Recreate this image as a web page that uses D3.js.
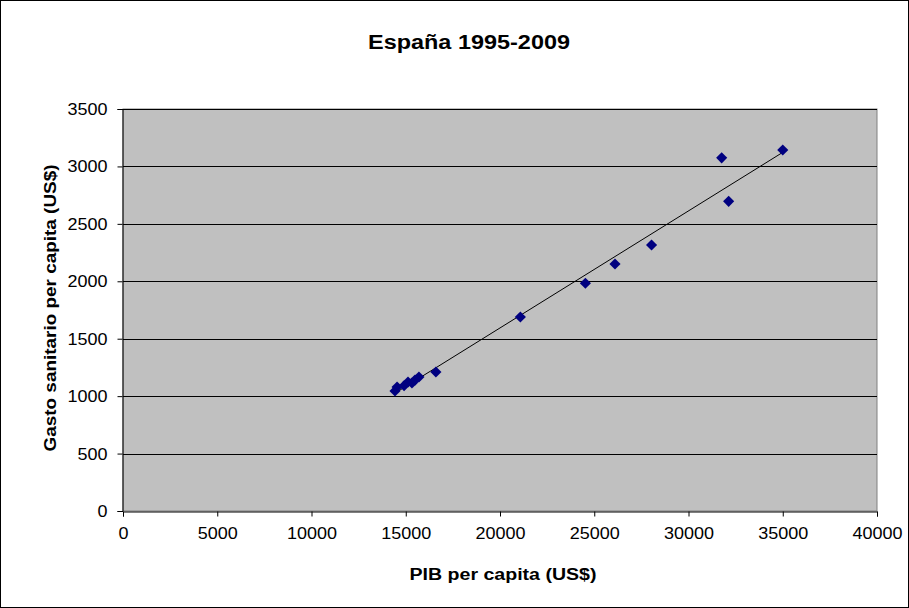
<!DOCTYPE html>
<html>
<head>
<meta charset="utf-8">
<script src="https://cdn.jsdelivr.net/npm/d3@7"></script>
<style>
  html, body { margin: 0; padding: 0; background: #fff; }
  svg { display: block; font-family: "Liberation Sans", Arial, sans-serif; }
</style>
</head>
<body>
<svg id="chart" width="909" height="608"></svg>
<script>
// España 1995-2009: PIB per capita vs gasto sanitario per capita (US$)
const years = [1995, 1996, 1997, 1998, 1999, 2000, 2001, 2002, 2003, 2004, 2005, 2006, 2007, 2008, 2009];
const pib = [14430, 14540, 14910, 15120, 15330, 15490, 15700, 16600, 21080, 24530, 26100, 28040, 31760, 35000, 32130];
const gasto = [1045, 1080, 1090, 1123, 1114, 1140, 1167, 1210, 1689, 1983, 2150, 2316, 3075, 3143, 2696];
const xTicks = [0, 5000, 10000, 15000, 20000, 25000, 30000, 35000, 40000];
const yTicks = [0, 500, 1000, 1500, 2000, 2500, 3000, 3500];

const svg = d3.select("#chart");
const W = 909, H = 608;
const plot = { left: 123, right: 877, top: 109, bottom: 511 };
const FONT = "\"Liberation Sans\", Arial, sans-serif";

// outer frame
svg.append("rect").attr("x", 0.5).attr("y", 0.5).attr("width", W - 1).attr("height", H - 1)
  .attr("fill", "#fff").attr("stroke", "#000").attr("stroke-width", 1);

const x = d3.scaleLinear().domain([0, 40000]).range([plot.left, plot.right]);
const y = d3.scaleLinear().domain([0, 3500]).range([plot.bottom, plot.top]);

// plot area
svg.append("rect").attr("x", plot.left).attr("y", plot.top)
  .attr("width", plot.right - plot.left).attr("height", plot.bottom - plot.top)
  .attr("fill", "#c0c0c0").attr("stroke", "#808080").attr("stroke-width", 1);

// horizontal gridlines
svg.append("g").selectAll("line").data(yTicks.filter(d => d > 0)).join("line")
  .attr("x1", plot.left).attr("x2", plot.right)
  .attr("y1", d => Math.round(y(d)) + 0.5).attr("y2", d => Math.round(y(d)) + 0.5)
  .attr("stroke", "#000").attr("stroke-width", 1);

// axes
const xAxis = d3.axisBottom(x).tickValues(xTicks).tickSize(5).tickPadding(10).tickFormat(d3.format("d"));
const yAxis = d3.axisLeft(y).tickValues(yTicks).tickSize(5).tickPadding(10).tickFormat(d3.format("d"));

const gx = svg.append("g").attr("transform", `translate(0,${plot.bottom + 0.5})`).call(xAxis);
const gy = svg.append("g").attr("transform", `translate(${plot.left - 0.5},0)`).call(yAxis);
[gx, gy].forEach(g => {
  g.selectAll("path").attr("stroke", "#000");
  g.selectAll("line").attr("stroke", "#000");
  g.selectAll("text").attr("font-size", 17).attr("fill", "#000").attr("font-family", FONT)
    .attr("textLength", function () { return this.textContent.length * 10; })
    .attr("lengthAdjust", "spacingAndGlyphs");
});

// linear trend line over the data range
const n = pib.length;
const mx = d3.mean(pib), my = d3.mean(gasto);
let sxy = 0, sxx = 0;
for (let i = 0; i < n; i++) { sxy += (pib[i] - mx) * (gasto[i] - my); sxx += (pib[i] - mx) ** 2; }
const slope = sxy / sxx, icpt = my - slope * mx;
const [x0, x1] = d3.extent(pib);
svg.append("line")
  .attr("x1", x(x0)).attr("y1", y(icpt + slope * x0))
  .attr("x2", x(x1)).attr("y2", y(icpt + slope * x1))
  .attr("stroke", "#000").attr("stroke-width", 1);

// points
const diamond = d3.symbol().type(d3.symbolSquare).size(62);
svg.append("g").selectAll("path").data(years).join("path")
  .attr("d", diamond)
  .attr("transform", (d, i) => `translate(${x(pib[i])},${y(gasto[i])}) rotate(45)`)
  .attr("fill", "#000080");

// titles
svg.append("text").attr("x", 469).attr("y", 49).attr("text-anchor", "middle")
  .attr("font-size", 20).attr("font-weight", "bold")
  .attr("textLength", 202).attr("lengthAdjust", "spacingAndGlyphs")
  .text("España 1995-2009");
svg.append("text").attr("x", 503).attr("y", 580).attr("text-anchor", "middle")
  .attr("font-size", 16).attr("font-weight", "bold")
  .attr("textLength", 187).attr("lengthAdjust", "spacingAndGlyphs")
  .text("PIB per capita (US$)");
svg.append("text").attr("transform", `translate(56,308) rotate(-90)`).attr("text-anchor", "middle")
  .attr("font-size", 16).attr("font-weight", "bold")
  .attr("textLength", 287).attr("lengthAdjust", "spacingAndGlyphs")
  .text("Gasto sanitario per capita (US$)");
</script>
</body>
</html>
